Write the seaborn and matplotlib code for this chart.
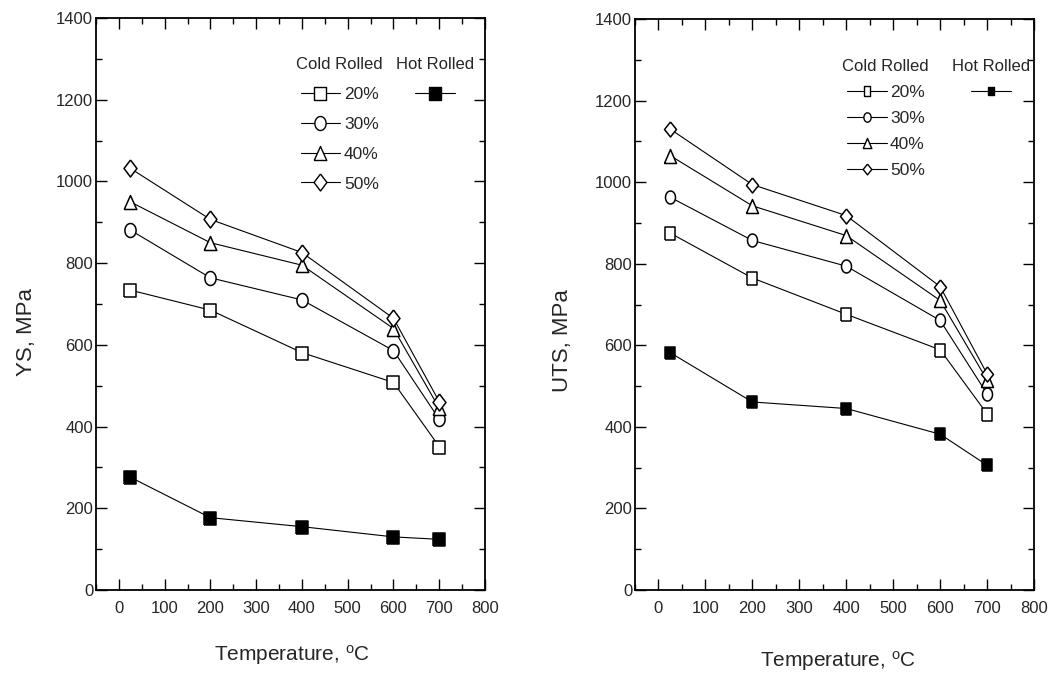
import matplotlib
matplotlib.use("Agg")
import matplotlib.pyplot as plt
from matplotlib.lines import Line2D
from matplotlib.ticker import MultipleLocator
import seaborn as sns
import pandas as pd
import numpy as np

# ---------------- data ----------------
temps = [25, 200, 400, 600, 700]
series_names = ["20%", "30%", "40%", "50%"]

ys_cold_20 = [734, 685, 581, 508, 351]
ys_cold_30 = [881, 764, 710, 586, 418]
ys_cold_40 = [950, 850, 795, 640, 445]
ys_cold_50 = [1032, 907, 826, 665, 461]
ys_hot = [276, 177, 155, 130, 124]

uts_cold_20 = [875, 765, 676, 589, 432]
uts_cold_30 = [963, 857, 794, 661, 481]
uts_cold_40 = [1065, 942, 869, 710, 515]
uts_cold_50 = [1130, 994, 918, 744, 530]
uts_hot = [582, 461, 445, 382, 306]

x_ticks = [0, 100, 200, 300, 400, 500, 600, 700, 800]
y_ticks = [0, 200, 400, 600, 800, 1000, 1200, 1400]

sns.set_theme(style="white")
plt.rcParams["font.family"] = ["Liberation Sans", "DejaVu Sans"]
plt.rcParams["mathtext.fontset"] = "custom"
plt.rcParams["mathtext.rm"] = "Liberation Sans"
plt.rcParams["mathtext.it"] = "Liberation Sans"

PX = 0.72  # points per pixel at dpi 100


# marker shapes (vertically stretched, as in the reference)
def rect_m(r):
    return [(-r, -1), (r, -1), (r, 1), (-r, 1), (-r, -1)]


def ell_m(r):
    t = np.linspace(0, 2 * np.pi, 41)
    return list(zip(r * np.sin(t), np.cos(t)))


def tri_m(r):
    return [(-r, -1), (r, -1), (0, 1), (-r, -1)]


def dia_m(r):
    return [(0, 1), (r, 0), (0, -1), (-r, 0), (0, 1)]


fig = plt.figure(figsize=(10.62, 6.80), dpi=100)
fig.patch.set_facecolor("white")
ax1 = fig.add_axes([96 / 1062, 90 / 680, 389 / 1062, 572 / 680])
ax2 = fig.add_axes([635 / 1062, 90 / 680, 399 / 1062, 571 / 680])


def draw(ax, cold, hot, mspecs, hotspec, ylabel, ylab_pos, xlab_pos,
         legscale, leg_cold, leg_hot, lsp):
    for vals, (mk, sz) in zip(cold, mspecs):
        df = pd.DataFrame({"T": temps, "v": vals})
        sns.lineplot(data=df, x="T", y="v", ax=ax, color="black", lw=0.8,
                     marker=mk, markersize=sz * PX, markerfacecolor="white",
                     markeredgecolor="black", markeredgewidth=1.1)
    dfh = pd.DataFrame({"T": temps, "v": hot})
    sns.lineplot(data=dfh, x="T", y="v", ax=ax, color="black", lw=0.8,
                 marker=hotspec[0], markersize=hotspec[1] * PX,
                 markerfacecolor="black", markeredgecolor="black",
                 markeredgewidth=1.1)

    ax.set_xlim(-50, 800)
    ax.set_ylim(0, 1400)
    ax.set_xticks(x_ticks)
    ax.set_yticks(y_ticks)
    ax.xaxis.set_minor_locator(MultipleLocator(50))
    ax.yaxis.set_minor_locator(MultipleLocator(100))
    ax.tick_params(which="both", direction="in", top=True, right=True,
                   bottom=True, left=True, color="black", width=1.0)
    ax.tick_params(which="major", length=8)
    ax.tick_params(which="minor", length=4.5)
    ax.tick_params(axis="x", which="major", labelsize=12, pad=8)
    ax.tick_params(axis="y", which="major", labelsize=12, pad=2)
    for s in ax.spines.values():
        s.set_visible(True)
        s.set_color("black")
        s.set_linewidth(1.3)
    ax.set_facecolor("white")
    ax.grid(False)
    ax.set_ylabel(ylabel, fontsize=16)
    ax.set_xlabel("Temperature, $^{o}$C", fontsize=15)
    ax.yaxis.set_label_coords(*ylab_pos)
    ax.xaxis.set_label_coords(*xlab_pos)

    handles = [Line2D([], [], color="black", lw=0.8, marker=mk,
                      markersize=sz * PX * legscale,
                      markerfacecolor="white", markeredgecolor="black",
                      markeredgewidth=1.0) for mk, sz in mspecs]
    leg1 = ax.legend(handles=handles, labels=series_names, title="Cold Rolled",
                     loc="upper left", bbox_to_anchor=leg_cold, frameon=False,
                     fontsize=12.5, title_fontsize=12, borderpad=0,
                     borderaxespad=0, handlelength=2.3, handletextpad=0.2,
                     labelspacing=lsp)
    ax.add_artist(leg1)
    hh = Line2D([], [], color="black", lw=0.8, marker=hotspec[0],
                markersize=hotspec[1] * PX * legscale,
                markerfacecolor="black", markeredgecolor="black")
    ax.legend(handles=[hh], labels=[""], title="Hot Rolled",
              loc="upper left", bbox_to_anchor=leg_hot, frameon=False,
              fontsize=12.5, title_fontsize=12, borderpad=0,
              borderaxespad=0, handlelength=2.3, handletextpad=0.0,
              labelspacing=lsp)


left_specs = [(rect_m(0.85), 13), (ell_m(0.8), 14), (tri_m(0.9), 14), (dia_m(0.76), 17)]
right_specs = [(rect_m(0.7), 13), (ell_m(0.77), 13), (tri_m(0.86), 14), (dia_m(0.8), 15)]

draw(ax1, [ys_cold_20, ys_cold_30, ys_cold_40, ys_cold_50], ys_hot,
     left_specs, (rect_m(0.85), 13),
     "YS, MPa", (-0.152, 0.451), (0.505, -0.092), 1.0,
     (0.515, 0.932), (0.772, 0.932), 0.85)
draw(ax2, [uts_cold_20, uts_cold_30, uts_cold_40, uts_cold_50], uts_hot,
     right_specs, (rect_m(0.77), 12),
     "UTS, MPa", (-0.155, 0.436), (0.508, -0.104), 0.72,
     (0.52, 0.93), (0.795, 0.93), 0.62)

fig.savefig("out.png", dpi=100, facecolor="white")
